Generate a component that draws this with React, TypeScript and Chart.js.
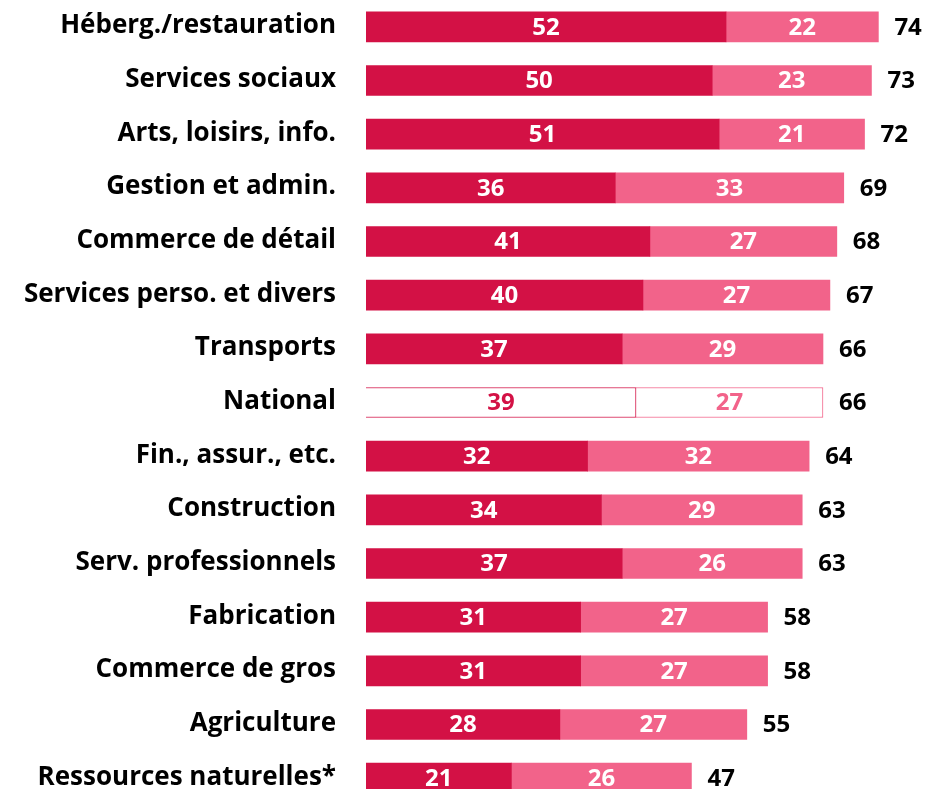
import React, { useEffect, useRef } from "react";
import { Chart, registerables } from "chart.js";

Chart.register(...registerables);

const categories = [
  "Héberg./restauration",
  "Services sociaux",
  "Arts, loisirs, info.",
  "Gestion et admin.",
  "Commerce de détail",
  "Services perso. et divers",
  "Transports",
  "National",
  "Fin., assur., etc.",
  "Construction",
  "Serv. professionnels",
  "Fabrication",
  "Commerce de gros",
  "Agriculture",
  "Ressources naturelles*",
];
const seriesA = [52, 50, 51, 36, 41, 40, 37, 39, 32, 34, 37, 31, 31, 28, 21];
const seriesB = [22, 23, 21, 33, 27, 27, 29, 27, 32, 29, 26, 27, 27, 27, 26];
const totals = [74, 73, 72, 69, 68, 67, 66, 66, 64, 63, 63, 58, 58, 55, 47];
const highlightLabel = "National";

const DARK = "#D31145";
const PINK = "#F2638A";
const FONT = "'Open Sans', sans-serif";

export default function App() {
  const ref = useRef<HTMLCanvasElement | null>(null);
  useEffect(() => {
    document.body.style.margin = "0";
    document.body.style.overflow = "hidden";
    const hi = categories.indexOf(highlightLabel);
    const bgA = categories.map((_, i) => (i === hi ? "#ffffff" : DARK));
    const bgB = categories.map((_, i) => (i === hi ? "#ffffff" : PINK));
    const bwA = categories.map((_, i) => (i === hi ? 1 : 0));
    const labelPlugin = {
      id: "labels",
      afterDatasetsDraw(chart: any) {
        const ctx = chart.ctx;
        ctx.save();
        ctx.textBaseline = "middle";
        // category labels
        const yScale = chart.scales.y;
        ctx.font = `bold 26px ${FONT}`;
        ctx.fillStyle = "#000000";
        ctx.textAlign = "right";
        categories.forEach((c, i) => {
          ctx.fillText(c, chart.chartArea.left - 30, yScale.getPixelForValue(i) - 1);
        });
        ctx.font = `bold 24px ${FONT}`;
        chart.data.datasets.forEach((ds: any, di: number) => {
          const meta = chart.getDatasetMeta(di);
          meta.data.forEach((bar: any, i: number) => {
            const x = (bar.x + bar.base) / 2;
            ctx.textAlign = "center";
            ctx.fillStyle = i === hi ? (di === 0 ? DARK : PINK) : "#ffffff";
            ctx.fillText(String(ds.data[i]), x, bar.y + 1);
          });
        });
        const last = chart.getDatasetMeta(chart.data.datasets.length - 1);
        ctx.fillStyle = "#000000";
        ctx.textAlign = "left";
        last.data.forEach((bar: any, i: number) => {
          ctx.fillText(String(totals[i]), bar.x + 16, bar.y + 1);
        });
        ctx.restore();
      },
    };
    const chart = new Chart(ref.current!, {
      type: "bar",
      data: {
        labels: categories,
        datasets: [
          {
            data: seriesA,
            backgroundColor: bgA,
            borderColor: DARK,
            borderWidth: bwA,
            barThickness: 30,
          },
          {
            data: seriesB,
            backgroundColor: bgB,
            borderColor: PINK,
            borderWidth: bwA,
            barThickness: 30,
          },
        ],
      },
      options: {
        indexAxis: "y",
        animation: false,
        responsive: false,
        maintainAspectRatio: false,
        layout: { padding: 0 },
        plugins: { legend: { display: false }, tooltip: { enabled: false } },
        scales: {
          x: {
            stacked: true,
            display: false,
            min: 0,
            max: 81.6,
          },
          y: {
            stacked: true,
            border: { display: false },
            grid: { display: false, drawTicks: false },
            ticks: { display: false },
            afterFit: (scale: any) => {
              scale.width = 366;
            },
          },
        },
      },
      plugins: [labelPlugin],
    });
    return () => chart.destroy();
  }, []);
  return (
    <div style={{ position: "absolute", left: 0, top: 0 }}>
      <canvas ref={ref} width={931} height={805} style={{ display: "block" }} />
    </div>
  );
}
